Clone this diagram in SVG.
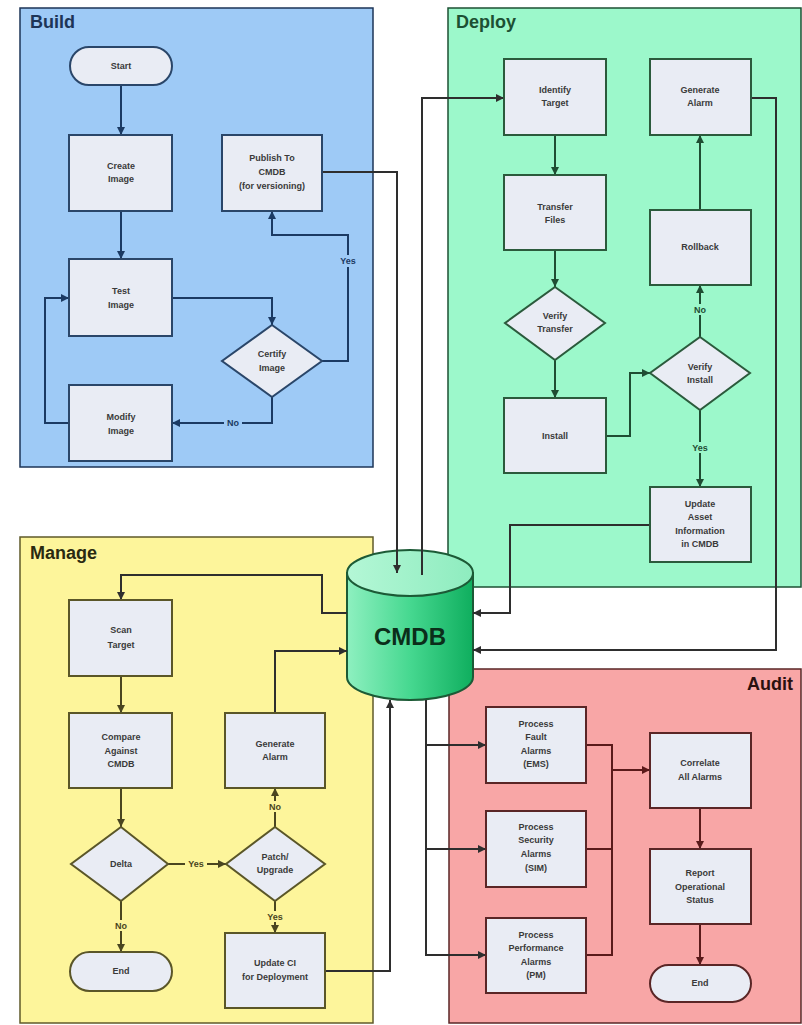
<svg xmlns="http://www.w3.org/2000/svg" width="802" height="1025" viewBox="0 0 802 1025">
<style>
text{font-family:"Liberation Sans",Arial,sans-serif;font-weight:bold;}
.t{font-size:9px;fill:#3a3a3a;text-anchor:middle;}
.title{font-size:18px;}
.n{fill:#e9ecf4;stroke-width:2;}
.b{stroke:#2a4669;} .d{stroke:#2b5a3c;} .m{stroke:#5a5628;} .a{stroke:#5a2626;}
.c{fill:none;stroke-width:2;}
.cb{stroke:#1b3a63;} .cd{stroke:#1f4d33;} .cm{stroke:#4a4520;} .ca{stroke:#5a1a1a;} .cx{stroke:#2e2e2e;}
.lbl{font-size:9px;text-anchor:middle;}
</style>
<defs>
<marker id="ab" viewBox="0 0 8 8" refX="8" refY="4" markerWidth="8" markerHeight="8" markerUnits="userSpaceOnUse" orient="auto"><path d="M0,0L8,4L0,8z" fill="#1b3a63"/></marker>
<marker id="ad" viewBox="0 0 8 8" refX="8" refY="4" markerWidth="8" markerHeight="8" markerUnits="userSpaceOnUse" orient="auto"><path d="M0,0L8,4L0,8z" fill="#1f4d33"/></marker>
<marker id="am" viewBox="0 0 8 8" refX="8" refY="4" markerWidth="8" markerHeight="8" markerUnits="userSpaceOnUse" orient="auto"><path d="M0,0L8,4L0,8z" fill="#4a4520"/></marker>
<marker id="aa" viewBox="0 0 8 8" refX="8" refY="4" markerWidth="8" markerHeight="8" markerUnits="userSpaceOnUse" orient="auto"><path d="M0,0L8,4L0,8z" fill="#5a1a1a"/></marker>
<marker id="ax" viewBox="0 0 8 8" refX="8" refY="4" markerWidth="8" markerHeight="8" markerUnits="userSpaceOnUse" orient="auto"><path d="M0,0L8,4L0,8z" fill="#2e2e2e"/></marker>
<linearGradient id="cyl" x1="0" y1="0" x2="1" y2="0">
<stop offset="0" stop-color="#8ef0c0"/><stop offset="0.5" stop-color="#46d890"/><stop offset="1" stop-color="#0fae5e"/>
</linearGradient>
<linearGradient id="cyltop" x1="0" y1="0" x2="1" y2="0">
<stop offset="0" stop-color="#b4f7d6"/><stop offset="1" stop-color="#8eecbf"/>
</linearGradient>
</defs>
<rect width="802" height="1025" fill="#ffffff"/>

<g id="panels">
<rect x="20" y="8" width="353" height="459" fill="#9ecaf6" stroke="#1d3557" stroke-width="1.5"/>
<text x="30" y="28" class="title" fill="#1d3557">Build</text>
<rect x="448" y="8" width="353" height="579" fill="#9cf8cb" stroke="#1c5033" stroke-width="1.5"/>
<text x="456" y="28" class="title" fill="#1c5033">Deploy</text>
<rect x="20" y="537" width="353" height="486" fill="#fdf59b" stroke="#5f5a2a" stroke-width="1.5"/>
<text x="30" y="559" class="title" fill="#2a2a10">Manage</text>
<rect x="449" y="669" width="352" height="354" fill="#f8a6a6" stroke="#5a2626" stroke-width="1.5"/>
<text x="793" y="690" class="title" fill="#2a1010" text-anchor="end">Audit</text>
</g>

<g id="cmdb">
<path d="M347,573 L347,677 A63,23 0 0 0 473,677 L473,573 Z" fill="url(#cyl)" stroke="#1c5a36" stroke-width="2"/>
<ellipse cx="410" cy="573" rx="63" ry="23" fill="url(#cyltop)" stroke="#1c5a36" stroke-width="2"/>
<text x="410" y="645" font-size="24" text-anchor="middle" fill="#0b2e1a">CMDB</text>
</g>

<g id="connectors">
<!-- Build -->
<path class="c cb" d="M121,85 V135" marker-end="url(#ab)"/>
<path class="c cb" d="M121,211 V259" marker-end="url(#ab)"/>
<path class="c cb" d="M172,298 H272 V325" marker-end="url(#ab)"/>
<path class="c cb" d="M322,361 H348 V235 H272 V211" marker-end="url(#ab)"/>
<path class="c cb" d="M272,397 V423 H172" marker-end="url(#ab)"/>
<path class="c cb" d="M69,423 H45 V298 H69" marker-end="url(#ab)"/>
<rect x="337" y="255" width="22" height="12" fill="#9ecaf6"/>
<text x="348" y="264" class="lbl" fill="#1b3a63">Yes</text>
<rect x="224" y="418" width="18" height="10" fill="#9ecaf6"/>
<text x="233" y="426" class="lbl" fill="#1b3a63">No</text>
<!-- cross to CMDB -->
<path class="c cx" d="M322,172 H397 V573" marker-end="url(#ax)"/>
<path class="c cx" d="M422,575 V98 H504" marker-end="url(#ax)"/>
<path class="c cx" d="M751,98 H776 V650 H473" marker-end="url(#ax)"/>
<path class="c cx" d="M650,525 H510 V613 H473" marker-end="url(#ax)"/>
<path class="c cx" d="M347,613 H322 V575 H121 V600" marker-end="url(#ax)"/>
<path class="c cx" d="M275,713 V651 H347" marker-end="url(#ax)"/>
<path class="c cx" d="M325,971 H390 V700" marker-end="url(#ax)"/>
<path class="c cx" d="M426,700 V955 H486" marker-end="url(#ax)"/>
<path class="c cx" d="M426,745 H486" marker-end="url(#ax)"/>
<path class="c cx" d="M426,849 H486" marker-end="url(#ax)"/>
<!-- Deploy -->
<path class="c cd" d="M555,135 V175" marker-end="url(#ad)"/>
<path class="c cd" d="M555,250 V287" marker-end="url(#ad)"/>
<path class="c cd" d="M555,360 V398" marker-end="url(#ad)"/>
<path class="c cd" d="M606,436 H630 V373 H650" marker-end="url(#ad)"/>
<path class="c cd" d="M700,337 V285" marker-end="url(#ad)"/>
<path class="c cd" d="M700,210 V135" marker-end="url(#ad)"/>
<path class="c cd" d="M700,410 V487" marker-end="url(#ad)"/>
<rect x="692" y="304" width="16" height="11" fill="#9cf8cb"/>
<text x="700" y="313" class="lbl" fill="#1f4d33">No</text>
<rect x="689" y="442" width="22" height="11" fill="#9cf8cb"/>
<text x="700" y="451" class="lbl" fill="#1f4d33">Yes</text>
<!-- Manage -->
<path class="c cm" d="M121,676 V713" marker-end="url(#am)"/>
<path class="c cm" d="M121,788 V827" marker-end="url(#am)"/>
<path class="c cm" d="M168,864 H226" marker-end="url(#am)"/>
<path class="c cm" d="M275,827 V788" marker-end="url(#am)"/>
<path class="c cm" d="M275,901 V933" marker-end="url(#am)"/>
<path class="c cm" d="M121,901 V952" marker-end="url(#am)"/>
<rect x="185" y="859" width="22" height="11" fill="#fdf59b"/>
<text x="196" y="867" class="lbl" fill="#4a4520">Yes</text>
<rect x="267" y="801" width="16" height="11" fill="#fdf59b"/>
<text x="275" y="810" class="lbl" fill="#4a4520">No</text>
<rect x="264" y="911" width="22" height="11" fill="#fdf59b"/>
<text x="275" y="920" class="lbl" fill="#4a4520">Yes</text>
<rect x="113" y="920" width="16" height="11" fill="#fdf59b"/>
<text x="121" y="929" class="lbl" fill="#4a4520">No</text>
<!-- Audit -->
<path class="c ca" d="M586,745 H612 V955 H586"/>
<path class="c ca" d="M586,849 H612"/>
<path class="c ca" d="M612,770 H650" marker-end="url(#aa)"/>
<path class="c ca" d="M700,808 V849" marker-end="url(#aa)"/>
<path class="c ca" d="M700,924 V965" marker-end="url(#aa)"/>
</g>

<g id="start"><rect class="n b" x="70" y="47" width="102" height="38" rx="19"/><text class="t" x="121" y="69">Start</text></g>
<g id="create-image"><rect class="n b" x="69" y="135" width="103" height="76"/><text class="t" x="121" y="169">Create</text><text class="t" x="121" y="182">Image</text></g>
<g id="publish"><rect class="n b" x="222" y="135" width="100" height="76"/><text class="t" x="272" y="161">Publish To</text><text class="t" x="272" y="175">CMDB</text><text class="t" x="272" y="189" font-weight="normal">(for versioning)</text></g>
<g id="test-image"><rect class="n b" x="69" y="259" width="103" height="77"/><text class="t" x="121" y="294">Test</text><text class="t" x="121" y="308">Image</text></g>
<g id="certify-image"><path class="n b" d="M272,325 L322,361 L272,397 L222,361 Z"/><text class="t" x="272" y="357">Certify</text><text class="t" x="272" y="371">Image</text></g>
<g id="modify-image"><rect class="n b" x="69" y="385" width="103" height="76"/><text class="t" x="121" y="420">Modify</text><text class="t" x="121" y="434">Image</text></g>

<g id="identify-target"><rect class="n d" x="504" y="59" width="102" height="76"/><text class="t" x="555" y="93">Identify</text><text class="t" x="555" y="106">Target</text></g>
<g id="deploy-generate-alarm"><rect class="n d" x="650" y="59" width="101" height="76"/><text class="t" x="700" y="93">Generate</text><text class="t" x="700" y="106">Alarm</text></g>
<g id="transfer-files"><rect class="n d" x="504" y="175" width="102" height="75"/><text class="t" x="555" y="210">Transfer</text><text class="t" x="555" y="223">Files</text></g>
<g id="rollback"><rect class="n d" x="650" y="210" width="101" height="75"/><text class="t" x="700" y="250">Rollback</text></g>
<g id="verify-transfer"><path class="n d" d="M555,287 L605,323 L555,360 L505,323 Z"/><text class="t" x="555" y="319">Verify</text><text class="t" x="555" y="332">Transfer</text></g>
<g id="install"><rect class="n d" x="504" y="398" width="102" height="75"/><text class="t" x="555" y="439">Install</text></g>
<g id="verify-install"><path class="n d" d="M700,337 L750,373 L700,410 L650,373 Z"/><text class="t" x="700" y="370">Verify</text><text class="t" x="700" y="383">Install</text></g>
<g id="update-asset"><rect class="n d" x="650" y="487" width="101" height="75"/><text class="t" x="700" y="507">Update</text><text class="t" x="700" y="520">Asset</text><text class="t" x="700" y="534">Information</text><text class="t" x="700" y="547">in CMDB</text></g>

<g id="scan-target"><rect class="n m" x="69" y="600" width="103" height="76"/><text class="t" x="121" y="633">Scan</text><text class="t" x="121" y="648">Target</text></g>
<g id="compare-against-cmdb"><rect class="n m" x="69" y="713" width="103" height="75"/><text class="t" x="121" y="740">Compare</text><text class="t" x="121" y="754">Against</text><text class="t" x="121" y="767">CMDB</text></g>
<g id="manage-generate-alarm"><rect class="n m" x="225" y="713" width="100" height="75"/><text class="t" x="275" y="747">Generate</text><text class="t" x="275" y="760">Alarm</text></g>
<g id="delta"><path class="n m" d="M121,827 L168,864 L121,901 L71,864 Z"/><text class="t" x="121" y="867">Delta</text></g>
<g id="patch-upgrade"><path class="n m" d="M275,827 L325,864 L275,901 L226,864 Z"/><text class="t" x="275" y="860">Patch/</text><text class="t" x="275" y="873">Upgrade</text></g>
<g id="manage-end"><rect class="n m" x="70" y="952" width="102" height="39" rx="19.5"/><text class="t" x="121" y="974">End</text></g>
<g id="update-ci"><rect class="n m" x="225" y="933" width="100" height="75"/><text class="t" x="275" y="966">Update CI</text><text class="t" x="275" y="980">for Deployment</text></g>

<g id="process-fault"><rect class="n a" x="486" y="707" width="100" height="76"/><text class="t" x="536" y="727">Process</text><text class="t" x="536" y="740">Fault</text><text class="t" x="536" y="754">Alarms</text><text class="t" x="536" y="767">(EMS)</text></g>
<g id="process-security"><rect class="n a" x="486" y="811" width="100" height="76"/><text class="t" x="536" y="830">Process</text><text class="t" x="536" y="843">Security</text><text class="t" x="536" y="857">Alarms</text><text class="t" x="536" y="871">(SIM)</text></g>
<g id="process-performance"><rect class="n a" x="486" y="918" width="100" height="75"/><text class="t" x="536" y="938">Process</text><text class="t" x="536" y="951">Performance</text><text class="t" x="536" y="965">Alarms</text><text class="t" x="536" y="978">(PM)</text></g>
<g id="correlate-all-alarms"><rect class="n a" x="650" y="733" width="101" height="75"/><text class="t" x="700" y="766">Correlate</text><text class="t" x="700" y="780">All Alarms</text></g>
<g id="report-status"><rect class="n a" x="650" y="849" width="101" height="75"/><text class="t" x="700" y="876">Report</text><text class="t" x="700" y="890">Operational</text><text class="t" x="700" y="903">Status</text></g>
<g id="audit-end"><rect class="n a" x="650" y="965" width="101" height="37" rx="18.5"/><text class="t" x="700" y="986">End</text></g>
</svg>
